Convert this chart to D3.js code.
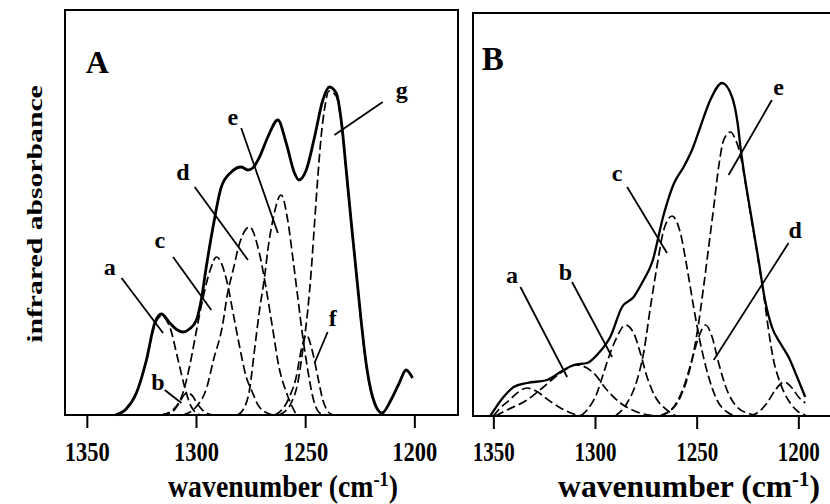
<!DOCTYPE html>
<html>
<head>
<meta charset="utf-8">
<script src="https://cdn.jsdelivr.net/npm/d3@7"></script>
<style>
    body { margin: 0; background: #fff; }
    svg text { font-family: "Liberation Serif", "Times New Roman", serif; font-weight: bold; fill: #000; }
</style>
</head>
<body>
<svg id="chart" width="830" height="504"></svg>
<script>

// wavenumber (cm-1), absorbance (arbitrary units)
var ticks = [1350, 1300, 1250, 1200]
var wavenumberDomain = [1360, 1180]

var solidA = [[1337, 0], [1332, 6], [1327.3, 22], [1322.7, 55], [1318.9, 92], [1315.8, 101], [1312, 92], [1308.5, 85], [1306, 83],
    [1303, 86], [1299.8, 95], [1297.6, 115], [1295.3, 148], [1292.2, 188], [1288.4, 228], [1283.8, 243], [1279.3, 248],
    [1276.2, 245], [1274, 247], [1270.9, 258], [1267.1, 278], [1262.5, 295], [1258.7, 272], [1254.9, 242], [1252.9, 235],
    [1249.5, 245], [1245.7, 278], [1241.9, 315], [1238.9, 328], [1235.8, 322], [1233.5, 295], [1231.2, 245], [1229, 195],
    [1226.7, 145], [1224.4, 95], [1222.1, 52], [1219.1, 18], [1214.8, 2], [1210.7, 15], [1206.9, 32], [1203.8, 45], [1200.8, 37]]

var bandAa = [[1337, 0], [1332, 6], [1327.3, 22], [1322.7, 55], [1318.9, 90], [1315.8, 99], [1312, 88], [1308.2, 55], [1305.2, 28], [1302.1, 8], [1298, 0]]
var bandAb = [[1316, 0], [1311, 3], [1308, 11], [1305.5, 20], [1304, 22], [1302, 20], [1299, 10], [1296, 3], [1292, 0]]
var bandAc = [[1316, 0], [1310.6, 5], [1306, 22], [1303, 48], [1300, 82], [1297, 115], [1293.5, 145], [1290.6, 158], [1286, 135],
    [1283, 102], [1280, 68], [1277, 38], [1274.6, 25], [1271, 8], [1265, 0]]
var bandAd = [[1306, 0], [1300, 8], [1295, 28], [1292, 55], [1288, 88], [1285.5, 122], [1283, 145], [1280, 172], [1275.5, 188],
    [1271, 162], [1268, 128], [1265, 88], [1262, 48], [1258.5, 22], [1254, 0]]
var bandAe = [[1281, 0], [1278.5, 5], [1275.5, 25], [1273.2, 65], [1270.9, 105], [1268.6, 138], [1267.1, 165], [1264.8, 195], [1261, 220],
    [1258, 195], [1255.7, 158], [1253.4, 118], [1251.1, 78], [1248.8, 45], [1246.5, 18], [1243.4, 2], [1241, 0]]
var bandAf = [[1264, 0], [1261.7, 3], [1257.2, 18], [1254.1, 38], [1251.8, 65], [1249.5, 80], [1246.5, 62], [1244.2, 38], [1241.9, 15], [1238.9, 2], [1237, 0]]
var bandAg = [[1262, 0], [1260.2, 2], [1256.4, 12], [1253.4, 32], [1251.1, 65], [1248.8, 105], [1247.2, 145], [1245.7, 192], [1244.2, 238],
    [1242.7, 278], [1241.2, 305], [1239.1, 324], [1235.8, 319], [1233.5, 293], [1231.2, 244], [1229, 194], [1226.7, 144],
    [1224.4, 94], [1222.1, 51], [1219.1, 17], [1215.5, 2], [1213, 0]]

var solidB = [[1351.5, 0], [1345, 19], [1340, 29], [1333.4, 33], [1323.6, 36], [1317, 44], [1310.5, 51], [1303.9, 53], [1298.2, 63],
    [1292.5, 79], [1286.7, 109], [1281, 119], [1276.9, 133], [1271.7, 155], [1266.4, 200], [1261.3, 232], [1256.4, 249],
    [1252.3, 266], [1248.2, 289], [1243.3, 316], [1237.5, 333], [1232.6, 319], [1229.8, 292], [1228.4, 268], [1226.6, 242],
    [1223.6, 205], [1219.5, 155], [1216.4, 116], [1213, 89], [1208.9, 73], [1204.8, 59], [1200.6, 39], [1196.6, 19]]

var bandB1 = [[1350, 0], [1346.6, 8], [1342, 16], [1338.3, 23], [1333.5, 28], [1329, 25], [1323.6, 17], [1317, 8], [1310.5, 2], [1306, 0]]
var bandB2 = [[1349, 0], [1343.3, 6], [1333.4, 16], [1325.3, 29], [1317, 43], [1308.8, 51], [1300.7, 43], [1294.1, 26], [1287.5, 13], [1279.3, 4], [1269.5, 0]]
var bandB3 = [[1307, 0], [1303.9, 6], [1299, 23], [1295.8, 43], [1292.5, 63], [1289.2, 79], [1285.1, 91], [1281, 83], [1277.7, 63],
    [1274.4, 39], [1270.3, 19], [1264.6, 6], [1260, 0]]
var bandBc = [[1290, 0], [1284.2, 13], [1279.3, 36], [1276.1, 63], [1272.8, 108], [1269.5, 150], [1266.2, 186], [1262.1, 200],
    [1258, 183], [1254.8, 149], [1251.5, 109], [1248.2, 73], [1244.1, 39], [1240, 16], [1235.1, 4], [1231, 0]]
var bandBd = [[1268, 0], [1266, 2], [1261.3, 9], [1256.4, 29], [1252.3, 56], [1249, 79], [1245.7, 91], [1242.4, 79], [1239.2, 53],
    [1235.1, 26], [1230.1, 9], [1223.6, 2], [1220, 0]]
var bandBe = [[1268, 0], [1264.6, 3], [1258, 19], [1253.1, 49], [1249.8, 83], [1246.6, 129], [1244.1, 169], [1241.6, 209], [1239.2, 249],
    [1236.7, 276], [1233.4, 284], [1230.8, 276], [1228.6, 262], [1226.6, 240], [1223.6, 203], [1219.5, 153], [1216.6, 115],
    [1214.8, 88], [1212.2, 56], [1208.9, 33], [1204, 13], [1199.1, 3], [1196.5, 1]]
var bandB7 = [[1224, 0], [1220.3, 3], [1215.4, 13], [1211.3, 26], [1207, 34], [1203.1, 28], [1199.9, 19], [1196.6, 13]]

var labelsA = ['a', 'b', 'c', 'd', 'e', 'f', 'g']
var labelPosA = [[1339.5, 148], [1317.4, 33], [1316.6, 175], [1306, 243], [1283.1, 298], [1237.4, 97], [1205.8, 325]]
var leadersA = [[[1334.1, 137], [1315.1, 82]], [[1314.3, 25], [1306.7, 12]], [[1310.5, 158], [1293, 105]], [[1300.6, 228], [1276.2, 155]],
    [[1279.3, 287], [1262.5, 182]], [[1239.7, 83], [1245.7, 52]], [[1214.5, 313], [1236.6, 280]]]

var labelsB = ['a', 'b', 'c', 'd', 'e']
var labelPosB = [[1340.8, 141], [1314.6, 144], [1289.2, 243], [1201.5, 186], [1209.7, 329]]
var leadersB = [[[1336.7, 129], [1313.7, 39]], [[1311.3, 134], [1291.6, 59]], [[1284.2, 229], [1264.6, 163]],
    [[1204.8, 173], [1241.6, 56]], [[1213, 316], [1234.3, 241]]]

var layout = {
    A: { left: 65, right: 458, top: 10, bottom: 415, yMax: 405, solidWidth: 2.8, letter: 'A', letterPos: [1350.5, 342], letterSize: 32,
        tickLabelWidth: 45, titleX: 283, titleWidth: 230 },
    B: { left: 473, right: 839, top: 13, bottom: 416, yMax: 403, solidWidth: 2.3, letter: 'B', letterPos: [1355.7, 346], letterSize: 33,
        tickLabelWidth: 42, titleX: 689, titleWidth: 262 },
    labelSize: 24,
    tickBaseline: 461,
    titleBaseline: 497
}

var svg = d3.select('#chart')

function fitWidth(node, width) {
    return width / node.getBBox().width
}

function drawPanel(cfg, solid, bands, labels, labelPos, leaders) {

    var x = d3.scaleLinear().domain(wavenumberDomain).range([cfg.left, cfg.right])
    var y = d3.scaleLinear().domain([0, cfg.yMax]).range([cfg.bottom, cfg.top])

    var line = d3.line()
        .x(function (d) { return x(d[0]) })
        .y(function (d) { return y(d[1]) })
        .curve(d3.curveMonotoneX)

    var panel = svg.append('g')

    panel.append('rect')
        .attr('x', cfg.left)
        .attr('y', cfg.top)
        .attr('width', cfg.right - cfg.left)
        .attr('height', cfg.bottom - cfg.top)
        .attr('fill', 'none')
        .attr('stroke', '#000')
        .attr('stroke-width', 2)

    panel.selectAll('path.band')
        .data(bands)
        .enter()
        .append('path')
        .attr('class', 'band')
        .attr('d', line)
        .attr('fill', 'none')
        .attr('stroke', '#000')
        .attr('stroke-width', 1.7)
        .attr('stroke-dasharray', '9,4')

    panel.append('path')
        .datum(solid)
        .attr('d', line)
        .attr('fill', 'none')
        .attr('stroke', '#000')
        .attr('stroke-width', cfg.solidWidth)
        .attr('stroke-linejoin', 'round')

    panel.selectAll('line.leader')
        .data(leaders)
        .enter()
        .append('line')
        .attr('class', 'leader')
        .attr('x1', function (d) { return x(d[0][0]) })
        .attr('y1', function (d) { return y(d[0][1]) })
        .attr('x2', function (d) { return x(d[1][0]) })
        .attr('y2', function (d) { return y(d[1][1]) })
        .attr('stroke', '#000')
        .attr('stroke-width', 1.8)

    panel.selectAll('text.band-label')
        .data(labels)
        .enter()
        .append('text')
        .attr('class', 'band-label')
        .attr('x', function (_, i) { return x(labelPos[i][0]) })
        .attr('y', function (_, i) { return y(labelPos[i][1]) })
        .attr('dominant-baseline', 'central')
        .attr('text-anchor', 'middle')
        .attr('font-size', layout.labelSize)
        .text(function (d) { return d })

    panel.append('text')
        .attr('x', x(cfg.letterPos[0]))
        .attr('y', y(cfg.letterPos[1]))
        .attr('font-size', cfg.letterSize)
        .text(cfg.letter)

    var axis = d3.axisBottom(x)
        .tickValues(ticks)
        .tickSize(13)
        .tickSizeOuter(0)
        .tickFormat(d3.format('d'))

    var axisElement = panel.append('g')
        .attr('transform', 'translate(0, ' + cfg.bottom + ')')
        .call(axis)
        .attr('font-family', null)
        .attr('font-size', null)

    axisElement.select('.domain').remove()
    axisElement.selectAll('.tick line')
        .attr('stroke', '#000')
        .attr('stroke-width', 2)

    axisElement.selectAll('.tick text')
        .attr('y', null)
        .attr('dy', null)
        .attr('fill', null)
        .attr('font-size', 28)
        .attr('transform', function () {
            return 'translate(0, ' + (layout.tickBaseline - cfg.bottom) + ') scale(' + fitWidth(this, cfg.tickLabelWidth) + ', 1)'
        })

    var title = panel.append('text')
        .attr('text-anchor', 'middle')
        .attr('font-size', 32)
    title.append('tspan').text('wavenumber (cm')
    title.append('tspan').attr('font-size', 21).attr('dy', -11).text('-1')
    title.append('tspan').attr('dy', 11).text(')')
    title.attr('transform', 'translate(' + cfg.titleX + ', ' + layout.titleBaseline + ') scale(' + fitWidth(title.node(), cfg.titleWidth) + ', 1)')
}

drawPanel(layout.A, solidA, [bandAa, bandAb, bandAc, bandAd, bandAe, bandAf, bandAg], labelsA, labelPosA, leadersA)
drawPanel(layout.B, solidB, [bandB1, bandB2, bandB3, bandBc, bandBd, bandBe, bandB7], labelsB, labelPosB, leadersB)

var yTitle = svg.append('text')
    .attr('text-anchor', 'middle')
    .attr('font-size', 22)
    .text('infrared absorbance')
yTitle.attr('transform', 'translate(42, 214) rotate(-90) scale(' + fitWidth(yTitle.node(), 258) + ', 1)')

</script>
</body>
</html>
